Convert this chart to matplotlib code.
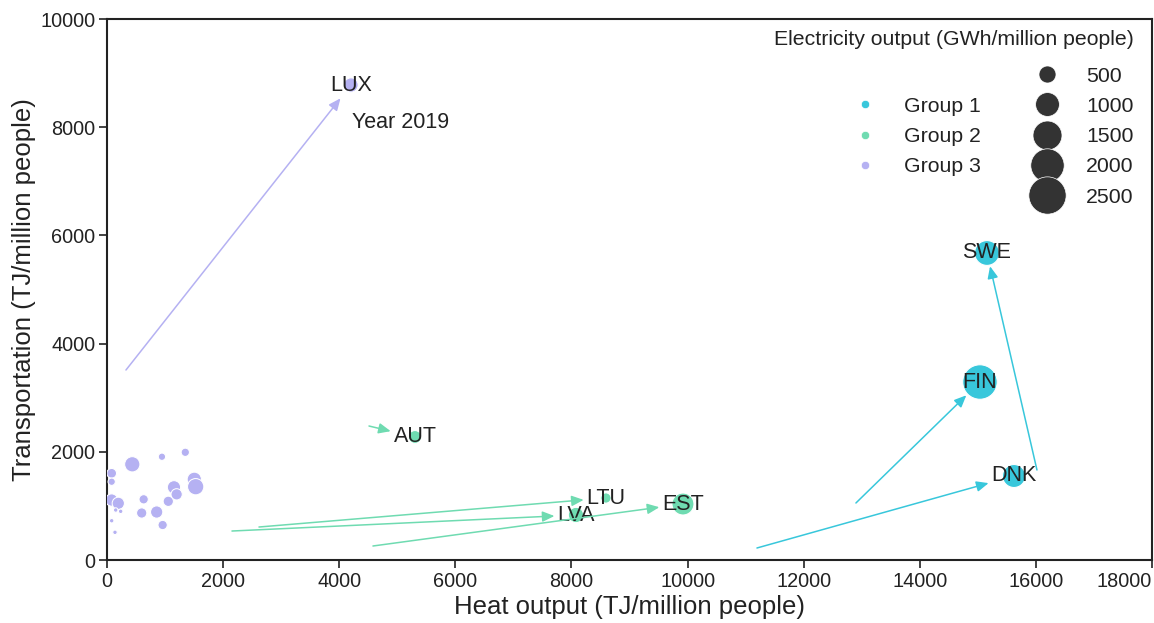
import matplotlib
matplotlib.use("Agg")
import matplotlib.pyplot as plt
from matplotlib.lines import Line2D

plt.rcParams['font.family'] = ['Liberation Sans', 'DejaVu Sans']

# Labelled countries (year 2019) and their earlier positions (arrow starts)
countries = ['SWE', 'FIN', 'DNK', 'AUT', 'LTU', 'LVA', 'EST', 'LUX']
groups = [1, 1, 1, 2, 2, 2, 2, 3]
heat = [15157, 15036, 15622, 5305, 8594, 8078, 9921, 4203]
transport = [5675, 3290, 1553, 2274, 1146, 832, 1035, 8780]
electricity = [1088, 2134, 930, 274, 164, 397, 848, 343]
heat_start = [16018, 12900, 11195, 4513, 2618, 2153, 4581, 327]
transport_start = [1664, 1054, 222, 2477, 610, 536, 259, 3512]

# Unlabelled Group 3 countries
other_heat = [81, 81, 436, 947, 1349, 81, 195, 236, 150, 81, 138, 632, 598,
              856, 959, 1056, 1154, 1200, 1504, 1528]
other_transport = [1603, 1447, 1769, 1909, 1991, 1109, 1048, 900, 924, 726,
                   512, 1122, 869, 887, 647, 1085, 1344, 1214, 1492, 1355]
other_electricity = [143, 69, 397, 69, 97, 246, 246, 8, 8, 8, 8, 129, 164,
                     246, 129, 164, 293, 203, 343, 455]

group_names = ['Group 1', 'Group 2', 'Group 3']
group_colors = {1: '#38C7DB', 2: '#6FDBB1', 3: '#B5B1F2'}
size_levels = [500, 1000, 1500, 2000, 2500]

x_ticks = list(range(0, 18001, 2000))
y_ticks = list(range(0, 10001, 2000))

TXT = '#222222'


def msize(v):
    return 8 + 0.285 * v


fig = plt.figure(figsize=(11.54, 6.23), dpi=100)
ax = fig.add_axes([0.0927, 0.1011, 0.9056, 0.8684])

# unlabelled group 3
ax.scatter(other_heat, other_transport, s=[msize(v) for v in other_electricity],
           color=group_colors[3], edgecolor='white', linewidth=0.75, zorder=3)
# labelled
ax.scatter(heat, transport, s=[msize(v) for v in electricity],
           color=[group_colors[g] for g in groups], edgecolor='white',
           linewidth=0.75, zorder=3)

for name, g, x, y, x0, y0 in zip(countries, groups, heat, transport,
                                 heat_start, transport_start):
    ax.annotate(name, xy=(x0, y0), xytext=(x, y), ha='center', va='center',
                fontsize=15.5, color=TXT, zorder=5,
                arrowprops=dict(arrowstyle='<|-,head_length=0.8,head_width=0.35',
                                color=group_colors[g], lw=1.1,
                                shrinkA=0, shrinkB=0, mutation_scale=9))

ax.text(4220, 8078, 'Year 2019', fontsize=15.5, color=TXT,
        ha='left', va='center')

ax.set_xlim(0, 18000)
ax.set_ylim(0, 10000)
ax.set_xticks(x_ticks)
ax.set_yticks(y_ticks)
ax.tick_params(direction='out', length=6, width=1.2, labelsize=14.3,
               colors=TXT, pad=2.5)
ax.get_xticklabels()[-1].set_horizontalalignment('right')
for sp in ax.spines.values():
    sp.set_linewidth(1.5)
    sp.set_color(TXT)
ax.set_xlabel('Heat output (TJ/million people)', fontsize=18.5, color=TXT,
              labelpad=3)
ax.set_ylabel('Transportation (TJ/million people)', fontsize=18.5,
              color=TXT, labelpad=3)

# legend
blank = Line2D([], [], linestyle='none', marker='')
hue_handles = [Line2D([], [], linestyle='none', marker='o', markersize=6,
                      markerfacecolor=group_colors[i], markeredgecolor='white',
                      markeredgewidth=0.5) for i in (1, 2, 3)]
size_handles = [Line2D([], [], linestyle='none', marker='o',
                       markersize=msize(v) ** 0.5,
                       markerfacecolor='#333333', markeredgecolor='white',
                       markeredgewidth=0.5) for v in size_levels]
handles = [blank] + hue_handles + [blank] + size_handles
labels = [''] + group_names + [''] + [str(v) for v in size_levels]
leg = ax.legend(handles, labels, ncol=2, loc='upper right',
                bbox_to_anchor=(0.9965, 1.0066), frameon=False, fontsize=15.3,
                title='Electricity output (GWh/million people)',
                title_fontsize=15.3, labelspacing=0.53, columnspacing=2.1,
                handletextpad=0.83, handlelength=2.0, borderaxespad=0.3)
leg.get_title().set_color(TXT)
for t in leg.get_texts():
    t.set_color(TXT)
leg._legend_box.align = 'right'
leg._legend_box.sep = 12.5

fig.savefig('out.png', dpi=100)
